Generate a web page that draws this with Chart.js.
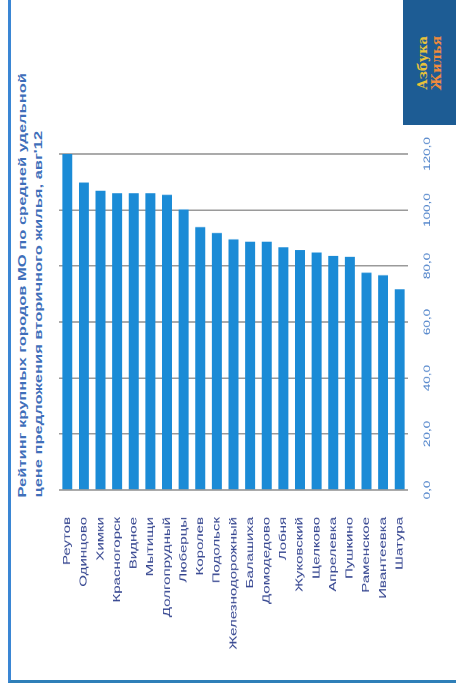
<!DOCTYPE html>
<html>
<head>
<meta charset="utf-8">
<script src="https://cdn.jsdelivr.net/npm/chart.js@4.4.0/dist/chart.umd.min.js"></script>
<style>
    body { margin: 0; background: #fff; width: 456px; height: 691px; overflow: hidden; position: relative; font-family: "Liberation Sans", Arial, sans-serif; }
    /* marco azul del recuadro */
    #marco { position: absolute; left: 8px; top: 0; width: 448px; height: 683px; border-left: 3px solid #3a86d4; border-bottom: 3px solid #2f7fb8; box-sizing: border-box; }
    #logo { position: absolute; left: 403px; top: 0; width: 53px; height: 125px; background: #1d5c94; overflow: hidden; }
    #logo div { position: absolute; left: 50%; top: 50%; transform: translate(-50%, -50%) rotate(-90deg); color: #e8c23a; font: bold 13px "DejaVu Serif", serif; line-height: 14px; text-align: center; white-space: nowrap; }
    /* todo el grafico va girado 90 grados y estirado a lo largo */
    #giro { position: absolute; left: 0; top: 0; width: 461px; height: 456px; transform-origin: 0 0; transform: translateY(691px) rotate(-90deg) scaleX(1.5); }
    #titulo { position: absolute; left: 129px; top: 14px; font-weight: bold; font-size: 11px; line-height: 16px; color: #3f6fba; white-space: nowrap; }
    #lienzo { position: absolute; left: 0; top: 0; }
</style>
</head>
<body>
<div id="marco"></div>
<div id="logo"><div><span style="color:#e8c23a">Азбука</span><br><span style="color:#f08a3c">Жилья</span></div></div>
<div id="giro">
    <div id="titulo">Рейтинг крупных городов МО по средней удельной<br>цене предложения вторичного жилья, авг'12</div>
    <canvas id="lienzo" width="461" height="456"></canvas>
</div>
<script>
// ciudades (de arriba a abajo) y precio medio, tys. rub/m2
const ciudades = ['Реутов', 'Одинцово', 'Химки', 'Красногорск', 'Видное', 'Мытищи', 'Долгопрудный', 'Люберцы',
    'Королев', 'Подольск', 'Железнодорожный', 'Балашиха', 'Домодедово', 'Лобня', 'Жуковский', 'Щелково',
    'Апрелевка', 'Пушкино', 'Раменское', 'Ивантеевка', 'Шатура'];
const precios = [120.0, 109.8, 106.9, 106.0, 106.0, 106.0, 105.4, 100.2, 93.9, 91.8, 89.5,
    88.7, 88.7, 86.7, 85.7, 84.8, 83.6, 83.3, 77.6, 76.7, 71.7];
const valorMin = 0;
const valorMax = 120;
const paso = 20;

const ctx = document.getElementById('lienzo').getContext('2d');
new Chart(ctx, {
    type: 'bar',
    data: {
        labels: ciudades,
        datasets: [{
            data: precios,
            backgroundColor: '#1b8bd6',
            barPercentage: 0.6,
            categoryPercentage: 1
        }]
    },
    options: {
        indexAxis: 'y',
        responsive: false,
        animation: false,
        devicePixelRatio: 2,
        layout: { padding: { top: 59, right: 103, left: 0, bottom: 0 } },
        plugins: { legend: { display: false }, tooltip: { enabled: false } },
        scales: {
            x: {
                min: valorMin,
                max: valorMax,
                z: 1,
                afterFit: (s) => { s.height = 48; },
                border: { display: false },
                grid: { color: '#9a9a9a', lineWidth: 1, drawTicks: false },
                ticks: {
                    stepSize: paso,
                    padding: 14,
                    color: '#4a7fc8',
                    font: { family: 'Liberation Sans', size: 9 },
                    maxRotation: 0,
                    callback: (v) => v.toFixed(1).replace('.', ',')
                }
            },
            y: {
                afterFit: (s) => { s.width = 134; },
                border: { display: false },
                grid: { display: false },
                ticks: {
                    padding: 10,
                    color: '#2e3f8c',
                    font: { family: 'Liberation Sans', size: 10 },
                    autoSkip: false
                }
            }
        }
    }
});
</script>
</body>
</html>
